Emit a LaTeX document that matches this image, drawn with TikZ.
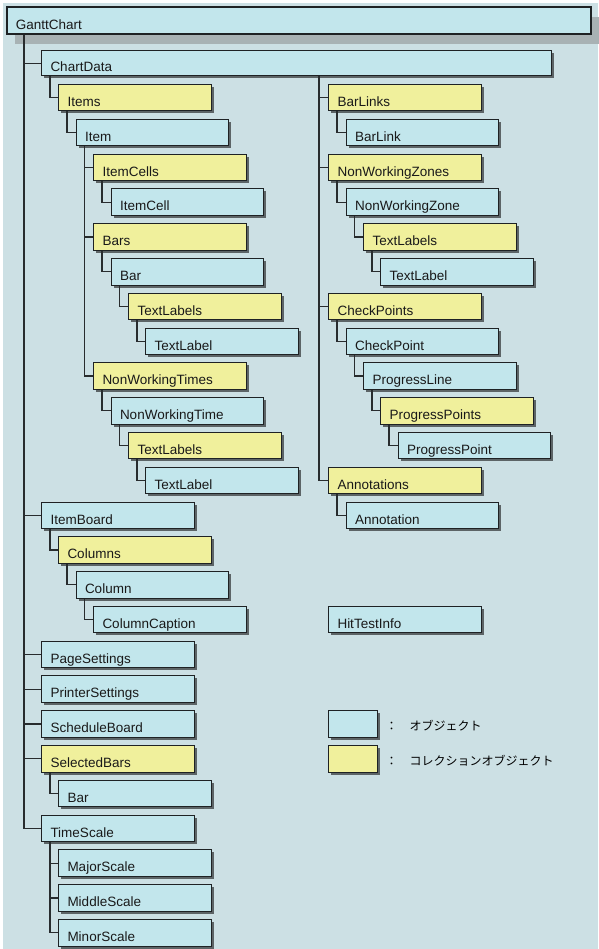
\documentclass[tikz,border=0pt]{standalone}
\usepackage{fontspec}
\setmainfont{Liberation Sans}
\newfontfamily\jpfont{Noto Sans CJK JP}
\usetikzlibrary{positioning,shadows}
\definecolor{bgcol}{RGB}{204,224,228}
\definecolor{objcol}{RGB}{194,230,236}
\definecolor{collcol}{RGB}{240,240,156}
\definecolor{edgecol}{RGB}{30,34,36}
\definecolor{shadecol}{RGB}{92,100,102}
\definecolor{bandcol}{RGB}{168,178,180}
\definecolor{linecol}{RGB}{40,44,46}
\tikzset{
    box/.style={draw=edgecol, line width=1pt, anchor=north west,
        minimum width=152.5pt, text width=134.5pt, inner xsep=9pt, inner ysep=0pt,
        text height=22pt, text depth=4.5pt, align=left, text=black!90},
    smallshade/.style={drop shadow={shadow xshift=2.5pt, shadow yshift=-2.5pt, fill=shadecol, opacity=1}},
    obj/.style={box, fill=objcol, smallshade},
    coll/.style={box, fill=collcol, smallshade},
    conn/.style={draw=linecol, line width=1.2pt},
}
\begin{document}
\begin{tikzpicture}[x=1pt, y=-1pt, font=\fontsize{13.5}{16}\selectfont]
    \useasboundingbox (0,0) rectangle (598,949);
    \fill[white] (0,0) rectangle (598,949);
    \fill[bgcol] (3,3) rectangle (598,949);

    % root
    \node[box, fill=objcol, line width=1.8pt, minimum width=584pt, text width=566pt,
        text height=22.5pt, drop shadow={shadow xshift=8pt, shadow yshift=-10pt, fill=bandcol, opacity=1}]
        (gantt) at (6,6) {GanttChart};
    \node[obj, minimum width=510pt, text width=492pt, text height=21pt] (chartdata) at (41,50) {ChartData};

    % left column
    \node[coll] (items) at (58,84) {Items};
    \node[obj] (item) at (75.5,118.8) {Item};
    \node[coll] (itemcells) at (93,153.6) {ItemCells};
    \node[obj] (itemcell) at (110.5,188.4) {ItemCell};
    \node[coll] (bars) at (93,223.2) {Bars};
    \node[obj] (bar) at (110.5,258) {Bar};
    \node[coll] (barlabels) at (128,292.7) {TextLabels};
    \node[obj] (barlabel) at (145,327.5) {TextLabel};
    \node[coll] (nwtimes) at (93,362.3) {NonWorkingTimes};
    \node[obj] (nwtime) at (110.5,397.1) {NonWorkingTime};
    \node[coll] (nwtlabels) at (128,431.9) {TextLabels};
    \node[obj] (nwtlabel) at (145,466.7) {TextLabel};
    \node[obj] (itemboard) at (41,501.5) {ItemBoard};
    \node[coll] (columns) at (58,536.3) {Columns};
    \node[obj] (column) at (75.5,571.1) {Column};
    \node[obj] (colcaption) at (93,605.9) {ColumnCaption};
    \node[obj] (pagesettings) at (41,640.6) {PageSettings};
    \node[obj] (printersettings) at (41,675.4) {PrinterSettings};
    \node[obj] (scheduleboard) at (41,710.2) {ScheduleBoard};
    \node[coll] (selectedbars) at (41,745) {SelectedBars};
    \node[obj] (selbar) at (58,779.8) {Bar};
    \node[obj] (timescale) at (41,814.6) {TimeScale};
    \node[obj] (majorscale) at (58,849.4) {MajorScale};
    \node[obj] (middlescale) at (58,884.2) {MiddleScale};
    \node[obj] (minorscale) at (58,919) {MinorScale};

    % right column
    \node[coll] (barlinks) at (328,84) {BarLinks};
    \node[obj] (barlink) at (345.5,118.8) {BarLink};
    \node[coll] (nwzones) at (328,153.6) {NonWorkingZones};
    \node[obj] (nwzone) at (345.5,188.4) {NonWorkingZone};
    \node[coll] (nwzlabels) at (363,223.2) {TextLabels};
    \node[obj] (nwzlabel) at (380,258) {TextLabel};
    \node[coll] (checkpoints) at (328,292.7) {CheckPoints};
    \node[obj] (checkpoint) at (345.5,327.5) {CheckPoint};
    \node[obj] (progressline) at (363,362.3) {ProgressLine};
    \node[coll] (progresspoints) at (380,397.1) {ProgressPoints};
    \node[obj] (progresspoint) at (397.5,431.9) {ProgressPoint};
    \node[coll] (annotations) at (328,466.7) {Annotations};
    \node[obj] (annotation) at (345.5,501.5) {Annotation};
    \node[obj] (hittest) at (328,605.9) {HitTestInfo};

    % legend
    \node[obj, minimum width=49pt, text width=31pt] (keyobj) at (328,710.2) {};
    \node[coll, minimum width=49pt, text width=31pt] (keycoll) at (328,745) {};
    \node[right=7.5pt of keyobj, yshift=-2pt, inner sep=0pt, font=\jpfont\fontsize{12}{14}\selectfont] (keyobjtext) {：　オブジェクト};
    \node[right=7.5pt of keycoll, yshift=-2pt, inner sep=0pt, font=\jpfont\fontsize{12}{14}\selectfont] (keycolltext) {：　コレクションオブジェクト};

    % connectors
    \draw[conn] (gantt.south west) ++(18,0) |- (chartdata.west)
        (gantt.south west) ++(18,0) |- (itemboard.west)
        (gantt.south west) ++(18,0) |- (pagesettings.west)
        (gantt.south west) ++(18,0) |- (printersettings.west)
        (gantt.south west) ++(18,0) |- (scheduleboard.west)
        (gantt.south west) ++(18,0) |- (selectedbars.west)
        (gantt.south west) ++(18,0) |- (timescale.west);
    \draw[conn] (chartdata.south west) ++(9,0) |- (items.west)
        (items.south west) ++(9,0) |- (item.west)
        (item.south west) ++(9,0) |- (itemcells.west)
        (item.south west) ++(9,0) |- (bars.west)
        (item.south west) ++(9,0) |- (nwtimes.west)
        (itemcells.south west) ++(9,0) |- (itemcell.west)
        (bars.south west) ++(9,0) |- (bar.west)
        (bar.south west) ++(9,0) |- (barlabels.west)
        (barlabels.south west) ++(9,0) |- (barlabel.west)
        (nwtimes.south west) ++(9,0) |- (nwtime.west)
        (nwtime.south west) ++(9,0) |- (nwtlabels.west)
        (nwtlabels.south west) ++(9,0) |- (nwtlabel.west);
    \draw[conn] (itemboard.south west) ++(9,0) |- (columns.west)
        (columns.south west) ++(9,0) |- (column.west)
        (column.south west) ++(9,0) |- (colcaption.west)
        (selectedbars.south west) ++(9,0) |- (selbar.west)
        (timescale.south west) ++(9,0) |- (majorscale.west)
        (timescale.south west) ++(9,0) |- (middlescale.west)
        (timescale.south west) ++(9,0) |- (minorscale.west);
    \draw[conn] (chartdata.south west) ++(278,0) |- (barlinks.west)
        (chartdata.south west) ++(278,0) |- (nwzones.west)
        (chartdata.south west) ++(278,0) |- (checkpoints.west)
        (chartdata.south west) ++(278,0) |- (annotations.west)
        (barlinks.south west) ++(9,0) |- (barlink.west)
        (nwzones.south west) ++(9,0) |- (nwzone.west)
        (nwzone.south west) ++(9,0) |- (nwzlabels.west)
        (nwzlabels.south west) ++(9,0) |- (nwzlabel.west)
        (checkpoints.south west) ++(9,0) |- (checkpoint.west)
        (checkpoint.south west) ++(9,0) |- (progressline.west)
        (progressline.south west) ++(9,0) |- (progresspoints.west)
        (progresspoints.south west) ++(9,0) |- (progresspoint.west)
        (annotations.south west) ++(9,0) |- (annotation.west);
\end{tikzpicture}
\end{document}
